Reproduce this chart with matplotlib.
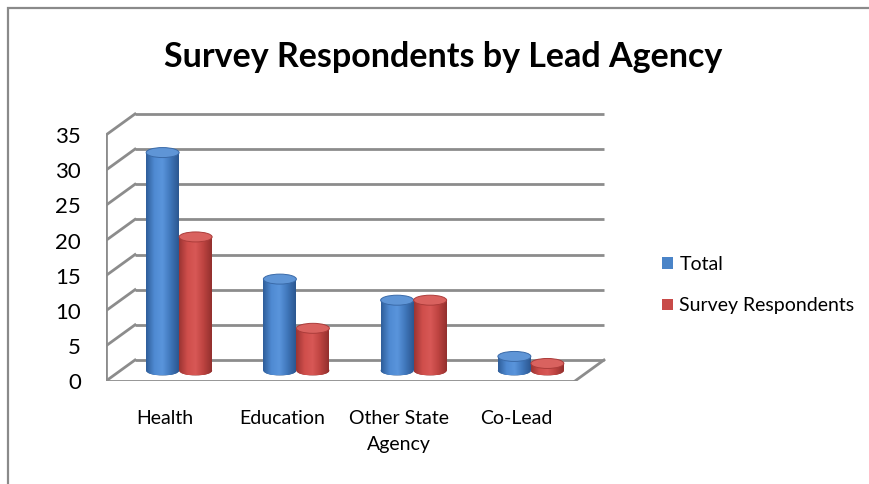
import numpy as np
import matplotlib.pyplot as plt
from matplotlib.patches import Ellipse, Rectangle
from matplotlib.colors import LinearSegmentedColormap

# data
categories = ['Health', 'Education', 'Other State\nAgency', 'Co-Lead']
total = [31, 13, 10, 2]
respondents = [19, 6, 10, 1]
series_names = ['Total', 'Survey Respondents']
yticks = [0, 5, 10, 15, 20, 25, 30, 35]

plt.rcParams['font.family'] = ['Lato', 'DejaVu Sans']

W, H = 870, 484
fig = plt.figure(figsize=(W / 100, H / 100), dpi=100)

# outer chart border (only left and top visible)
fig.patches.append(Rectangle((8 / W, -0.1), 2, 1 - 8 / H + 0.1, transform=fig.transFigure,
                             fill=False, edgecolor='#8a8a8a', lw=1.6))

# pixel scale of the plot area
PX_X = 117.25   # px per category
PX_Y = 7.03     # px per unit
DX = 29 / PX_X  # depth offset
DY = 21 / PX_Y

ax = fig.add_axes([106 / W, 103 / H, 500 / W, 275 / H])
ax.set_facecolor('none')

GRID = '#8c8c8c'
n = len(categories)
for v in yticks:
    ax.plot([DX, n + DX], [v + DY, v + DY], color=GRID, lw=2, solid_capstyle='butt', zorder=1)
    ax.plot([0, DX], [v, v + DY], color=GRID, lw=2, zorder=1)
ax.plot([0, 0], [0, yticks[-1]], color=GRID, lw=2, zorder=1)
ax.plot([0, n], [0, 0], color=GRID, lw=2, zorder=1)
ax.plot([n, n + DX], [0, DY], color=GRID, lw=2, zorder=1)

styles = [
    dict(base='#4a84c8', dark='#2d5b95', top='#5f95d6', rim='#3a6aa8',
         cmap=LinearSegmentedColormap.from_list('b', ['#2f5e9a', '#4f8ad2', '#5a95dc', '#3f76ba', '#2c5790'])),
    dict(base='#c84a48', dark='#983432', top='#d9625f', rim='#ab3c3a',
         cmap=LinearSegmentedColormap.from_list('r', ['#9c3533', '#cf4e4b', '#d85856', '#bd4340', '#93302e'])),
]

bw = 33 / PX_X
eh = 10 / PX_Y
base_y = DY / 2
grad = np.linspace(0, 1, 64).reshape(1, -1)

for i, (vals, name, st) in enumerate(zip([total, respondents], series_names, styles)):
    xs = np.arange(n) + 0.5 + DX / 2 + (i - 0.5) * bw
    bars = ax.bar(xs, vals, width=bw, bottom=base_y, color=st['base'], label=name, zorder=3)
    for b, x, v in zip(bars, xs, vals):
        bot = Ellipse((x, base_y), bw, eh, facecolor=st['dark'], edgecolor='none', zorder=2.9)
        ax.add_patch(bot)
        im = ax.imshow(grad, extent=[x - bw / 2, x + bw / 2, base_y - eh / 2, base_y + v],
                       aspect='auto', cmap=st['cmap'], zorder=3.1, interpolation='bilinear')
        im.set_clip_path(b)
        im2 = ax.imshow(grad, extent=[x - bw / 2, x + bw / 2, base_y - eh / 2, base_y + v],
                        aspect='auto', cmap=st['cmap'], zorder=3.05, interpolation='bilinear')
        im2.set_clip_path(bot)
        ax.add_patch(Ellipse((x, base_y + v), bw, eh, facecolor=st['top'],
                             edgecolor=st['rim'], lw=0.7, zorder=3.3))

ax.set_xlim(0, 500 / PX_X)
ax.set_ylim(0, 275 / PX_Y)
for s in ax.spines.values():
    s.set_visible(False)

# value labels on the front-left edge
ax.set_yticks([])
for v in yticks:
    ax.text(-25 / PX_X, v - 0.3, str(v), ha='right', va='center', fontsize=16, clip_on=False)

ax.set_xticks(np.arange(n) + 0.5, categories)
ax.tick_params(axis='x', length=0, pad=21, labelsize=14)
for t in ax.get_xticklabels():
    t.set_linespacing(1.65)

fig.text(443.5 / W, 1 - 57 / H, 'Survey Respondents by Lead Agency', ha='center', va='center',
         fontsize=24.5, fontweight='bold')

handles, labels = ax.get_legend_handles_labels()
fig.legend(handles, labels, loc='upper left', bbox_to_anchor=(662 / W, 1 - 256 / H),
           frameon=False, fontsize=14, handlelength=0.55, handleheight=0.55,
           handletextpad=0.35, labelspacing=1.25, borderpad=0, borderaxespad=0)

fig.savefig('out.png', dpi=100)
